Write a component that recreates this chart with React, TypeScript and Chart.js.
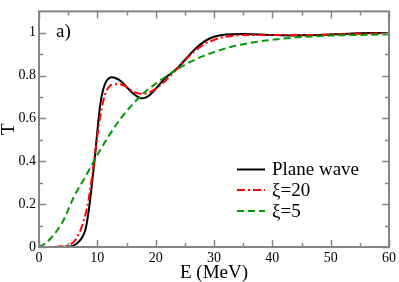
import React, { useEffect, useRef } from 'react';
import { Chart, registerables } from 'chart.js';

Chart.register(...registerables);

// ---- data ----
const planeE = [0, 3, 5, 6, 7, 7.5, 8, 8.5, 9, 9.5, 10, 10.5, 11, 11.5, 12, 12.5, 13, 14, 15, 16, 17, 17.5, 18, 19, 20, 21, 22, 23, 24, 25, 26, 27, 28, 29, 30, 32, 35, 40, 43, 48, 53, 57, 60];
const planeT = [0, 0, 0.002, 0.008, 0.03, 0.05, 0.085, 0.165, 0.275, 0.4, 0.54, 0.665, 0.735, 0.772, 0.788, 0.793, 0.79, 0.775, 0.748, 0.72, 0.7, 0.694, 0.695, 0.71, 0.738, 0.77, 0.797, 0.818, 0.843, 0.873, 0.903, 0.93, 0.953, 0.97, 0.982, 0.992, 0.995, 0.99, 0.988, 0.99, 0.996, 0.999, 0.999];

const xi20E = [0, 2, 4, 5, 6, 6.5, 7, 7.5, 8, 8.5, 9, 9.5, 10, 10.5, 11, 11.5, 12, 12.5, 13, 13.5, 14.5, 15.5, 16.5, 17.5, 18.5, 19.5, 20.5, 21.5, 22.5, 23.5, 24.5, 25.5, 26.5, 27.5, 28.5, 29.5, 31, 33, 35, 40, 45, 50, 55, 60];
const xi20T = [0, 0, 0.003, 0.008, 0.025, 0.045, 0.07, 0.11, 0.155, 0.22, 0.31, 0.41, 0.52, 0.61, 0.68, 0.725, 0.748, 0.758, 0.76, 0.76, 0.755, 0.737, 0.722, 0.715, 0.717, 0.73, 0.748, 0.772, 0.798, 0.827, 0.855, 0.884, 0.91, 0.932, 0.95, 0.962, 0.976, 0.985, 0.99, 0.99, 0.989, 0.992, 0.996, 0.998];

const xi5E = [0, 1, 2, 4, 6, 8, 10, 12, 14, 16, 18, 20, 22, 24, 26, 28, 30, 33, 36, 40, 45, 50, 55, 60];
const xi5T = [0, 0.015, 0.04, 0.115, 0.235, 0.33, 0.43, 0.52, 0.6, 0.665, 0.72, 0.762, 0.8, 0.835, 0.865, 0.89, 0.91, 0.935, 0.952, 0.968, 0.98, 0.987, 0.99, 0.993];

const seriesLabels = ['Plane wave', 'ξ=20', 'ξ=5'];
const xTicks = [0, 10, 20, 30, 40, 50, 60];
const yTicks = [0, 0.2, 0.4, 0.6, 0.8, 1];
const xMinorTicks = [5, 15, 25, 35, 45, 55];
const yMinorTicks = [0.1, 0.3, 0.5, 0.7, 0.9];
const panelLabel = 'a)';

const FONT = "'Liberation Serif', serif";
Chart.defaults.font.family = FONT;

const toPoints = (xs: number[], ys: number[]) => xs.map((x, i) => ({ x, y: ys[i] }));

const framePlugin = {
  id: 'frame',
  afterDraw(chart: any) {
    const { ctx, chartArea, scales } = chart;
    const { left, right, top, bottom } = chartArea;
    const xs = scales.x;
    const ys = scales.y;
    ctx.save();
    ctx.strokeStyle = '#858585';
    ctx.lineWidth = 1.5;
    const tick = (x1: number, y1: number, x2: number, y2: number) => {
      ctx.beginPath();
      ctx.moveTo(x1, y1);
      ctx.lineTo(x2, y2);
      ctx.stroke();
    };
    xTicks.forEach((v) => {
      const p = Math.round(xs.getPixelForValue(v)) + 0.5;
      tick(p, bottom, p, bottom - 7);
      tick(p, top, p, top + 7);
    });
    xMinorTicks.forEach((v) => {
      const p = Math.round(xs.getPixelForValue(v)) + 0.5;
      tick(p, bottom, p, bottom - 4);
      tick(p, top, p, top + 4);
    });
    yTicks.forEach((v) => {
      const p = Math.round(ys.getPixelForValue(v)) + 0.5;
      tick(left, p, left + 7, p);
      tick(right, p, right - 7, p);
    });
    yMinorTicks.forEach((v) => {
      const p = Math.round(ys.getPixelForValue(v)) + 0.5;
      tick(left, p, left + 4, p);
      tick(right, p, right - 4, p);
    });
    ctx.lineWidth = 2;
    ctx.strokeRect(left, top, right - left, bottom - top);

    // panel label
    ctx.fillStyle = '#000';
    ctx.font = `19px ${FONT}`;
    ctx.textBaseline = 'alphabetic';
    ctx.textAlign = 'left';
    ctx.fillText(panelLabel, 56, 37);

    // legend
    const rows = [169.5, 190, 211];
    chart.data.datasets.forEach((ds: any, i: number) => {
      const y = rows[i];
      ctx.save();
      ctx.strokeStyle = ds.borderColor;
      ctx.lineWidth = ds.borderWidth;
      ctx.setLineDash(ds.borderDash || []);
      ctx.beginPath();
      ctx.moveTo(237, y);
      ctx.lineTo(265, y);
      ctx.stroke();
      ctx.restore();
      ctx.fillStyle = '#000';
      ctx.font = `19px ${FONT}`;
      ctx.textBaseline = 'middle';
      ctx.fillText(ds.label, 272, y + 1);
    });
    ctx.restore();
  },
};

export default function App() {
  const ref = useRef<HTMLCanvasElement | null>(null);
  useEffect(() => {
    document.body.style.margin = '0';
    if (!ref.current) return;
    const chart = new Chart(ref.current, {
      type: 'line',
      data: {
        datasets: [
          {
            label: seriesLabels[0],
            data: toPoints(planeE, planeT),
            borderColor: '#000000',
            borderWidth: 2,
            pointRadius: 0,
            cubicInterpolationMode: 'monotone',
            fill: false,
            order: 3,
          },
          {
            label: seriesLabels[1],
            data: toPoints(xi20E, xi20T),
            borderColor: '#ff0000',
            borderWidth: 2,
            borderDash: [8, 3, 2, 3],
            pointRadius: 0,
            cubicInterpolationMode: 'monotone',
            fill: false,
            order: 2,
          },
          {
            label: seriesLabels[2],
            data: toPoints(xi5E, xi5T),
            borderColor: '#009900',
            borderWidth: 2,
            borderDash: [7, 4],
            pointRadius: 0,
            cubicInterpolationMode: 'monotone',
            fill: false,
            order: 1,
          },
        ],
      },
      options: {
        animation: false,
        responsive: false,
        devicePixelRatio: 1,
        layout: { padding: { top: 1, right: 9, left: 0, bottom: 0 } },
        plugins: { legend: { display: false }, tooltip: { enabled: false } },
        scales: {
          x: {
            type: 'linear',
            min: 0,
            max: 60,
            grid: { display: false, drawTicks: false },
            border: { display: false },
            afterBuildTicks: (s: any) => {
              s.ticks = xTicks.map((v) => ({ value: v }));
            },
            afterFit: (s: any) => {
              s.height = 35;
            },
            ticks: {
              color: '#000',
              padding: 3,
              maxRotation: 0,
              font: { family: FONT, size: 14 },
              callback: (v: any) => String(v),
            },
            title: {
              display: true,
              text: 'E (MeV)',
              color: '#000',
              font: { family: FONT, size: 19, lineHeight: 1 },
              padding: { top: 0, bottom: -1 },
            },
          },
          y: {
            type: 'linear',
            min: 0,
            max: 1.1,
            grid: { display: false, drawTicks: false },
            border: { display: false },
            afterBuildTicks: (s: any) => {
              s.ticks = yTicks.map((v) => ({ value: v }));
            },
            afterFit: (s: any) => {
              s.width = 39;
            },
            ticks: {
              color: '#000',
              padding: 3,
              font: { family: FONT, size: 14 },
              callback: (v: any) => String(v),
            },
            title: {
              display: true,
              text: 'T',
              color: '#000',
              font: { family: FONT, size: 19, lineHeight: 0.9 },
              padding: { top: 0, bottom: 0 },
            },
          },
        },
      },
      plugins: [framePlugin],
    } as any);
    return () => chart.destroy();
  }, []);
  return (
    <div style={{ position: 'absolute', left: 0, top: 0 }}>
      <canvas ref={ref} width={399} height={282} />
    </div>
  );
}
